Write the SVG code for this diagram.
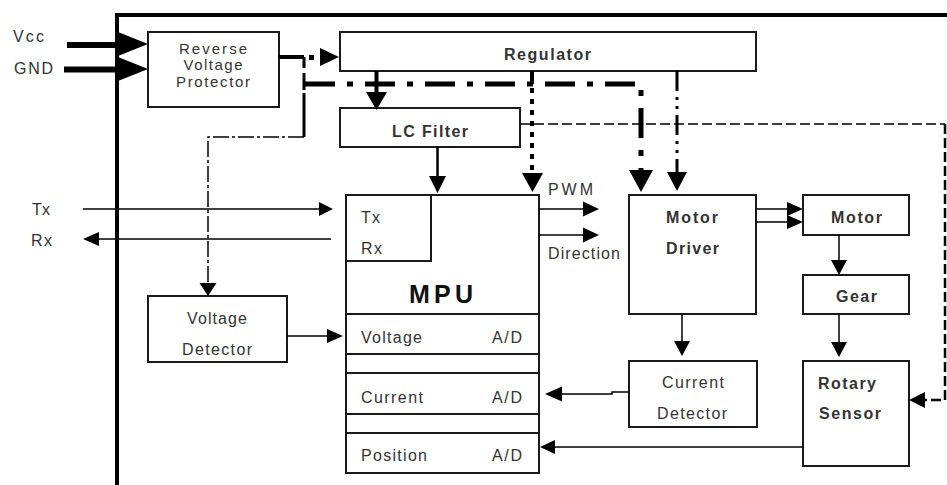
<svg xmlns="http://www.w3.org/2000/svg" width="947" height="485" viewBox="0 0 947 485">
  <style>
    text { font-family: "Liberation Sans", Arial, sans-serif; font-size: 16px; fill: #333; }
    .b { font-weight: bold; }
    .mid { text-anchor: middle; }
    .sm { font-size: 15px; }
    .big { font-size: 25px; fill: #111; }
    .box { fill: #fff; stroke: #1a1a1a; stroke-width: 2; }
    .sep { stroke: #1a1a1a; stroke-width: 2; fill: none; }
    .ln { stroke: #000; fill: none; }
    .head { fill: #000; stroke: none; }
  </style>
  <rect width="947" height="485" fill="#fff"/>

  <!-- enclosure frame -->
  <g id="frame">
    <path d="M117,485 V15 H947" fill="none" stroke="#000" stroke-width="4"/>
  </g>

  <!-- supply terminals -->
  <g id="supply">
    <text x="13" y="42" textLength="31" lengthAdjust="spacing">Vcc</text>
    <text x="14" y="74" textLength="39" lengthAdjust="spacing">GND</text>
  </g>

  <!-- serial terminals -->
  <g id="serial">
    <text x="32" y="215" textLength="18" lengthAdjust="spacing">Tx</text>
    <text x="31" y="246" textLength="21" lengthAdjust="spacing">Rx</text>
  </g>

  <g id="reverse-voltage-protector">
    <rect class="box" x="148" y="32" width="131" height="75"/>
    <text class="mid sm" x="213" y="54" textLength="68" lengthAdjust="spacing">Reverse</text>
    <text class="mid sm" x="213" y="70" textLength="59" lengthAdjust="spacing">Voltage</text>
    <text class="mid sm" x="213" y="87" textLength="74" lengthAdjust="spacing">Protector</text>
  </g>

  <g id="regulator">
    <rect class="box" x="340" y="32" width="416" height="39"/>
    <text class="b mid" x="547.5" y="60" textLength="87" lengthAdjust="spacing">Regulator</text>
  </g>

  <g id="lc-filter">
    <rect class="box" x="340" y="108" width="180" height="39"/>
    <text class="b mid" x="430" y="137" textLength="76" lengthAdjust="spacing">LC Filter</text>
  </g>

  <g id="mpu">
    <rect class="box" x="346" y="195" width="193" height="278"/>
    <path class="sep" d="M346,261 H431 V195"/>
    <path class="sep" d="M346,314 H539 M346,354 H539 M346,373 H539 M346,414 H539 M346,433 H539"/>
    <text x="361" y="223" textLength="19" lengthAdjust="spacing">Tx</text>
    <text x="361" y="254" textLength="21" lengthAdjust="spacing">Rx</text>
    <text class="b mid big" x="441" y="303" textLength="64" lengthAdjust="spacing">MPU</text>
    <text x="361" y="343" textLength="61" lengthAdjust="spacing">Voltage</text>
    <text x="492" y="343" textLength="30" lengthAdjust="spacing">A/D</text>
    <text x="361" y="403" textLength="62" lengthAdjust="spacing">Current</text>
    <text x="492" y="403" textLength="30" lengthAdjust="spacing">A/D</text>
    <text x="361" y="461" textLength="66" lengthAdjust="spacing">Position</text>
    <text x="492" y="461" textLength="30" lengthAdjust="spacing">A/D</text>
  </g>

  <g id="voltage-detector">
    <rect class="box" x="148" y="296" width="139" height="66"/>
    <text class="mid" x="217" y="324" textLength="60" lengthAdjust="spacing">Voltage</text>
    <text class="mid" x="217" y="355" textLength="70" lengthAdjust="spacing">Detector</text>
  </g>

  <g id="motor-driver">
    <rect class="box" x="629" y="195" width="127" height="119"/>
    <text class="b mid" x="692" y="223" textLength="52" lengthAdjust="spacing">Motor</text>
    <text class="b mid" x="692.5" y="254" textLength="53" lengthAdjust="spacing">Driver</text>
  </g>

  <g id="motor">
    <rect class="box" x="803" y="195" width="106" height="40"/>
    <text class="b mid" x="856.5" y="223" textLength="51" lengthAdjust="spacing">Motor</text>
  </g>

  <g id="gear">
    <rect class="box" x="803" y="275" width="106" height="39"/>
    <text class="b mid" x="856.5" y="302" textLength="41" lengthAdjust="spacing">Gear</text>
  </g>

  <g id="current-detector">
    <rect class="box" x="629" y="361" width="128" height="66"/>
    <text class="mid" x="693" y="388" textLength="62" lengthAdjust="spacing">Current</text>
    <text class="mid" x="692" y="419" textLength="70" lengthAdjust="spacing">Detector</text>
  </g>

  <g id="rotary-sensor">
    <rect class="box" x="803" y="361" width="106" height="105"/>
    <text class="b" x="818" y="389" textLength="58" lengthAdjust="spacing">Rotary</text>
    <text class="b" x="819" y="419" textLength="62" lengthAdjust="spacing">Sensor</text>
  </g>

  <g id="connectors">
    <!-- supply inputs -->
    <path class="ln" d="M67,45 H118" stroke-width="6"/>
    <path class="ln" d="M64,69.5 H118" stroke-width="6"/>
    <polygon class="head" points="118,32 148,44 118,56"/>
    <polygon class="head" points="118,57 148,69 118,81"/>

    <!-- protector output to regulator -->
    <path class="ln" d="M279,57 H304" stroke-width="4"/>
    <rect class="head" x="309" y="55" width="5" height="5"/>
    <polygon class="head" points="320,48 339,57 320,66"/>

    <!-- protector output riser -->
    <path class="ln" d="M304,57 V68 M304,73 V90 M304,93 V137" stroke-width="3"/>

    <!-- supply to voltage detector -->
    <path class="ln" d="M304,137 H208 V283" stroke-width="1.5" stroke-dasharray="16 3 3 3"/>
    <polygon class="head" points="199.5,283 216.5,283 208,296"/>

    <!-- main power bus to motor driver -->
    <path class="ln" d="M305,84 H641 V170" stroke-width="5" stroke-dasharray="30 12 6 12"/>
    <polygon class="head" points="629,170 653,170 641,192"/>

    <!-- regulator to LC filter -->
    <path class="ln" d="M376.5,71 V93" stroke-width="4"/>
    <polygon class="head" points="366,92 387,92 376.5,110"/>

    <!-- regulator to MPU -->
    <path class="ln" d="M532,71 V84" stroke-width="4"/>
    <path class="ln" d="M532,88 V174" stroke-width="4" stroke-dasharray="5 6"/>
    <polygon class="head" points="522,173 543,173 532.5,192"/>

    <!-- regulator to motor driver -->
    <path class="ln" d="M677,71 V172" stroke-width="3" stroke-dasharray="20 6 3 6 3 6"/>
    <polygon class="head" points="667,172 687,172 677,191"/>

    <!-- LC filter to rotary sensor -->
    <path class="ln" d="M520,124 H945" stroke-width="1.5" stroke-dasharray="10 4"/>
    <path class="ln" d="M945,124 V400 H925" stroke-width="2.5" stroke-dasharray="10 4"/>
    <polygon class="head" points="925,392 925,408 909,400"/>

    <!-- LC filter to MPU -->
    <path class="ln" d="M437.5,147 V177" stroke-width="2.5"/>
    <polygon class="head" points="429,176 446,176 437.5,193"/>

    <!-- serial lines -->
    <path class="ln" d="M83,209 H320" stroke-width="1.5"/>
    <polygon class="head" points="319,202 333,209 319,216"/>
    <path class="ln" d="M331,239 H98" stroke-width="1.5"/>
    <polygon class="head" points="99,232 83,239 99,246"/>

    <!-- MPU to motor driver -->
    <path class="ln" d="M539,209 H584" stroke-width="1.5"/>
    <polygon class="head" points="583,201.5 599,209 583,216.5"/>
    <path class="ln" d="M539,235 H584" stroke-width="1.5"/>
    <polygon class="head" points="583,227.5 599,235 583,242.5"/>
    <text x="548" y="195" textLength="45" lengthAdjust="spacing">PWM</text>
    <text x="548" y="259" textLength="72" lengthAdjust="spacing">Direction</text>

    <!-- motor driver to motor -->
    <path class="ln" d="M756,209 H788 M756,222 H788" stroke-width="1.5"/>
    <polygon class="head" points="787,202 803,209 787,216"/>
    <polygon class="head" points="787,215 803,222 787,229"/>

    <!-- motor to gear, gear to rotary sensor -->
    <path class="ln" d="M839,235 V261" stroke-width="1.5"/>
    <polygon class="head" points="831,260 847,260 839,275"/>
    <path class="ln" d="M839,314 V343" stroke-width="1.5"/>
    <polygon class="head" points="831,342 847,342 839,357"/>

    <!-- motor driver to current detector -->
    <path class="ln" d="M682,314 V342" stroke-width="1.5"/>
    <polygon class="head" points="674,341 690,341 682,356"/>

    <!-- current detector to MPU -->
    <path class="ln" d="M629,392 H612 V394 H561" stroke-width="1.5"/>
    <polygon class="head" points="562,386.5 562,401.5 545,394"/>

    <!-- rotary sensor to MPU -->
    <path class="ln" d="M803,447 H554" stroke-width="1.5"/>
    <polygon class="head" points="555,440 555,454 540,447"/>

    <!-- voltage detector to MPU -->
    <path class="ln" d="M287,336 H328" stroke-width="1.5"/>
    <polygon class="head" points="327,329 343,336 327,343"/>
  </g>
</svg>
